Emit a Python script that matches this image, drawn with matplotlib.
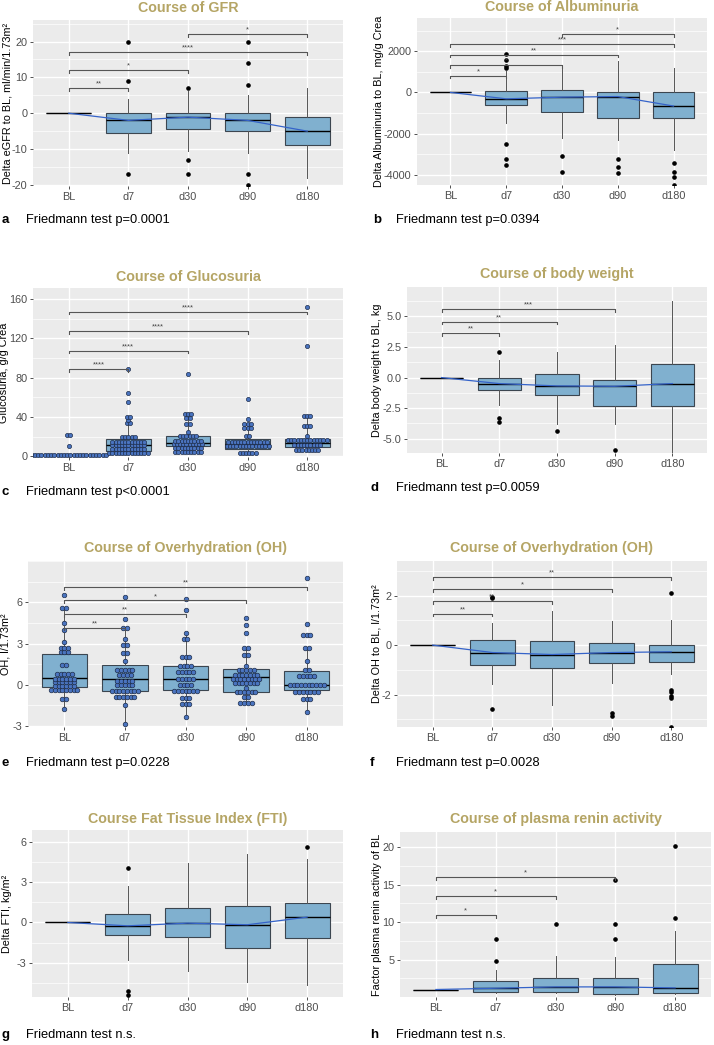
import numpy as np
import matplotlib
matplotlib.use('Agg')
import matplotlib.pyplot as plt
from matplotlib.ticker import AutoMinorLocator, FormatStrFormatter

plt.rcParams['font.family'] = ['Liberation Sans', 'DejaVu Sans']
plt.rcParams['axes.unicode_minus'] = False

W, H = 714, 1045
groups = ['BL', 'd7', 'd30', 'd90', 'd180']

# a: GFR
gfr_q1 = [0, -5.6, -4.5, -5.0, -8.9]
gfr_med = [0, -2.0, -1.1, -2.0, -5.0]
gfr_q3 = [0, 0, 0, 0, -1.0]
gfr_lo = [0, -11, -10.4, -11, -18]
gfr_hi = [0, 4, 6.3, 5.1, 7]
gfr_out = [[], [20, 9, -17], [7, -13, -17], [20, 14, 8, -17, -20], []]
gfr_sig = [(0, 1, 7, '**'), (0, 2, 12, '*'), (0, 4, 17, '****'), (2, 4, 22, '*')]

# b: Albuminuria
alb_q1 = [0, -630, -960, -1250, -1250]
alb_med = [0, -310, -230, -200, -660]
alb_q3 = [0, 70, 130, 20, 30]
alb_lo = [0, -1490, -2220, -2300, -2790]
alb_hi = [0, 1050, 1350, 1510, 1180]
alb_out = [[], [1180, 1260, 1570, 1860, -2480, -3250, -3500], [-3080, -3870],
           [-3240, -3600, -3920], [-3400, -3870, -4080, -4480]]
alb_sig = [(0, 1, 810, '*'), (0, 2, 1330, '*'), (0, 3, 1830, '**'), (0, 4, 2350, '***'), (2, 4, 2835, '*')]

# c: Glucosuria (box + dots)
glu_q1 = [1, 5.4, 10.2, 7.8, 9.5]
glu_med = [1, 11.9, 14, 12.2, 13.6]
glu_q3 = [1, 18, 21.1, 17.3, 18]
glu_lo = [1, 2.7, 4, 3.7, 6]
glu_hi = [1, 40, 43, 32.6, 41]
glu_dot_vals = [[1, 10.5, 21.4],
                [3, 7, 11, 15, 20, 34, 37, 40, 55, 64, 89],
                [4, 8.5, 12.2, 16, 20.4, 24.2, 32.6, 39, 42.8, 83.3],
                [3.7, 10.2, 15, 21, 28.5, 32.6, 37.7, 58],
                [6, 11, 16.3, 20.7, 31, 40.8, 112, 151.5]]
glu_dot_n = [[24, 1, 2],
             [13, 11, 11, 11, 5, 2, 1, 2, 1, 1, 1],
             [9, 9, 10, 9, 6, 1, 2, 2, 3, 1],
             [6, 14, 13, 2, 3, 3, 1, 1],
             [8, 9, 13, 1, 3, 3, 1, 1]]
glu_sig = [(0, 1, 88.7, '****'), (0, 2, 107.3, '****'), (0, 3, 127.4, '****'), (0, 4, 147.1, '****')]

# d: body weight
bw_q1 = [0, -0.98, -1.44, -2.34, -2.29]
bw_med = [0, -0.49, -0.68, -0.71, -0.49]
bw_q3 = [0, 0, 0.33, -0.16, 1.12]
bw_lo = [0, -2.2, -3.76, -3.8, -6.2]
bw_hi = [0, 1.42, 2.1, 2.7, 6.27]
bw_out = [[], [2.1, -3.3, -3.6], [-4.35], [-5.9], []]
bw_sig = [(0, 1, 3.62, '**'), (0, 2, 4.58, '**'), (0, 3, 5.6, '***')]

# e: Overhydration absolute (box + dots)
oh_q1 = [-0.17, -0.48, -0.41, -0.55, -0.41]
oh_med = [0.48, 0.43, 0.41, 0.53, -0.05]
oh_q3 = [2.22, 1.43, 1.38, 1.16, 0.97]
oh_lo = [-1.74, -2.85, -2.35, -1.3, -2.0]
oh_hi = [5.6, 4.15, 3.75, 2.7, 2.65]
oh_dot_vals = [[-1.75, -1.0, -0.4, -0.1, 0.2, 0.45, 0.8, 1.45, 2.35, 2.7, 3.1, 4.0, 4.5, 5.6, 6.55],
               [-2.85, -1.45, -0.9, -0.45, -0.05, 0.3, 0.7, 1.1, 1.7, 2.3, 2.9, 3.3, 4.15, 4.75, 6.35],
               [-2.35, -1.4, -0.95, -0.45, 0.0, 0.4, 0.9, 1.4, 2.05, 3.35, 3.75, 5.45, 6.25],
               [-1.3, -0.9, -0.55, -0.25, 0.15, 0.4, 0.7, 1.1, 1.4, 2.15, 2.7, 3.8, 4.35, 4.85],
               [-2.0, -1.0, -0.55, -0.05, 0.65, 1.05, 1.7, 2.65, 3.6, 4.4, 7.8]]
oh_dot_n = [[1, 2, 8, 6, 6, 6, 5, 2, 3, 3, 1, 1, 1, 2, 1],
            [1, 1, 6, 8, 5, 5, 4, 5, 1, 2, 2, 1, 2, 1, 1],
            [1, 3, 3, 7, 4, 5, 5, 4, 3, 2, 1, 1, 1],
            [4, 2, 6, 1, 7, 8, 7, 5, 1, 2, 2, 1, 1, 1],
            [1, 3, 7, 10, 5, 2, 1, 2, 3, 1, 1]]
oh_sig = [(0, 1, 4.15, '**'), (0, 2, 5.12, '**'), (0, 3, 6.13, '*'), (0, 4, 7.12, '**')]

# f: delta Overhydration
doh_q1 = [0, -0.8, -0.91, -0.74, -0.67]
doh_med = [0, -0.3, -0.38, -0.3, -0.27]
doh_q3 = [0, 0.2, 0.15, 0.1, 0.0]
doh_lo = [0, -1.57, -2.42, -1.54, -1.17]
doh_hi = [0, 0.9, 1.37, 0.97, 1.0]
doh_out = [[], [1.9, 1.95, -2.6], [], [-2.75, -2.85], [2.1, -1.8, -1.9, -2.05, -2.15, -3.3]]
doh_sig = [(0, 1, 1.27, '**'), (0, 2, 1.77, '**'), (0, 3, 2.27, '*'), (0, 4, 2.75, '**')]

# g: Fat tissue index
fti_q1 = [0, -0.94, -1.09, -1.91, -1.19]
fti_med = [0, -0.25, -0.05, -0.17, 0.40]
fti_q3 = [0, 0.65, 1.09, 1.22, 1.44]
fti_lo = [0, -2.78, -3.65, -4.47, -4.69]
fti_hi = [0, 2.73, 4.42, 5.11, 4.71]
fti_out = [[], [4.1, -5.1, -5.4], [], [], [5.6]]

# h: plasma renin activity
pra_q1 = [1, 0.68, 0.63, 0.42, 0.5]
pra_med = [1, 1.17, 1.35, 1.35, 1.22]
pra_q3 = [1, 2.15, 2.55, 2.55, 4.45]
pra_lo = [1, 0.55, 0.5, 0.3, 0.4]
pra_hi = [1, 3.6, 5.45, 5.35, 8.87]
pra_out = [[], [4.75, 7.8], [9.7], [7.8, 9.7, 15.6], [10.5, 20.2]]
pra_sig = [(0, 1, 10.96, '*'), (0, 2, 13.45, '*'), (0, 3, 15.99, '*')]

BOX = '#80B0CF'
TITLE = '#B5A565'
SMOOTH = '#3563C9'


def make_ax(fig, l, r, t, b):
    ax = fig.add_axes([l / W, 1 - b / H, (r - l) / W, (b - t) / H])
    ax.set_facecolor('#EBEBEB')
    for s in ax.spines.values():
        s.set_visible(False)
    ax.set_axisbelow(True)
    ax.yaxis.set_minor_locator(AutoMinorLocator(2))
    ax.grid(which='major', color='white', lw=1.0)
    ax.grid(which='minor', axis='y', color='white', lw=0.5)
    ax.tick_params(which='major', length=2.5, width=0.6, color='#333333',
                   labelsize=7.8, labelcolor='#4D4D4D', pad=1.5)
    ax.tick_params(which='minor', length=0)
    return ax


def draw_box(ax, q1, med, q3, lo, hi, out, smooth=True):
    stats = []
    for i in range(5):
        stats.append(dict(med=med[i], q1=q1[i], q3=q3[i], whislo=lo[i], whishi=hi[i],
                          fliers=out[i] if out is not None else []))
    ax.bxp(stats, positions=range(1, 6), widths=0.75, patch_artist=True, showcaps=False,
           showfliers=out is not None,
           boxprops=dict(facecolor=BOX, edgecolor='#3C4650', lw=0.8),
           whiskerprops=dict(color='#555555', lw=0.7),
           medianprops=dict(color='black', lw=1.0),
           flierprops=dict(marker='o', ms=2.3, mfc='black', mec='black', lw=0))
    if smooth:
        ax.plot(range(1, 6), med, color=SMOOTH, lw=0.9, zorder=4)
    ax.set_xlim(0.4, 5.6)
    ax.set_xticks(range(1, 6))
    ax.set_xticklabels(groups)


def draw_dots(ax, vals, counts, dx, ms):
    xs, ys = [], []
    for i in range(5):
        for v, n in zip(vals[i], counts[i]):
            for k in range(n):
                xs.append(i + 1 + (k - (n - 1) / 2) * dx)
                ys.append(v)
    ax.plot(xs, ys, 'o', ms=ms, mfc='#4A74C0', mec='#1E2D4A', mew=0.5, zorder=5)


def draw_sig(ax, sig):
    y0, y1 = ax.get_ylim()
    tick = (y1 - y0) * 0.016
    for a, b, y, lab in sig:
        ax.plot([a + 1, a + 1, b + 1, b + 1], [y - tick, y, y, y - tick], color='#555555', lw=0.8, zorder=6)
        ax.text((a + b) / 2 + 1, y + tick * 0.2, lab, ha='center', va='bottom', fontsize=5.5,
                color='#444444', zorder=6)


def ylab(ax, text, xc):
    # place y label with its centre at pixel column xc
    pos = ax.get_position()
    ax.set_ylabel(text, fontsize=7.8)
    ax.yaxis.set_label_coords((xc + 4.5 - pos.x0 * W) / (pos.width * W), 0.5)


def labels(fig, ax, title, ty, letter, lx, tx, cy, caption):
    pos = ax.get_position()
    fig.text(pos.x0 + pos.width / 2, 1 - ty / H, title, ha='center', va='center',
             fontsize=10.3, fontweight='bold', color=TITLE)
    fig.text(lx / W, 1 - cy / H, letter, ha='left', va='center', fontsize=9.5, fontweight='bold')
    fig.text(tx / W, 1 - cy / H, caption, ha='left', va='center', fontsize=9.3)


fig = plt.figure(figsize=(W / 100, H / 100), dpi=100)

# a
ax = make_ax(fig, 33, 343, 20, 186)
draw_box(ax, gfr_q1, gfr_med, gfr_q3, gfr_lo, gfr_hi, gfr_out)
ax.set_ylim(-20.3, 26)
ax.set_yticks([-20, -10, 0, 10, 20])
draw_sig(ax, gfr_sig)
ylab(ax, 'Delta eGFR to BL, ml/min/1.73m²', 8)
labels(fig, ax, 'Course of GFR', 8, 'a', 2, 26, 220, 'Friedmann test p=0.0001')

# b
ax = make_ax(fig, 417, 707, 18, 185)
draw_box(ax, alb_q1, alb_med, alb_q3, alb_lo, alb_hi, alb_out)
ax.set_ylim(-4490, 3610)
ax.set_yticks([-4000, -2000, 0, 2000])
draw_sig(ax, alb_sig)
ylab(ax, 'Delta Albuminuria to BL, mg/g Crea', 380)
labels(fig, ax, 'Course of Albuminuria', 7, 'b', 373, 396, 220, 'Friedmann test p=0.0394')

# c
ax = make_ax(fig, 33, 343, 288, 457)
draw_box(ax, glu_q1, glu_med, glu_q3, glu_lo, glu_hi, None, smooth=False)
ax.set_ylim(-0.7, 171)
ax.set_yticks([0, 40, 80, 120, 160])
draw_dots(ax, glu_dot_vals, glu_dot_n, 0.054, 3.0)
draw_sig(ax, glu_sig)
ylab(ax, 'Glucosuria, g/g Crea', 5)
labels(fig, ax, 'Course of Glucosuria', 277, 'c', 2, 26, 492, 'Friedmann test p<0.0001')

# d
ax = make_ax(fig, 407, 707, 287, 453)
draw_box(ax, bw_q1, bw_med, bw_q3, bw_lo, bw_hi, bw_out)
ax.set_ylim(-6.16, 7.4)
ax.set_yticks([-5, -2.5, 0, 2.5, 5])
ax.yaxis.set_major_formatter(FormatStrFormatter('%.1f'))
draw_sig(ax, bw_sig)
ylab(ax, 'Delta body weight to BL, kg', 378)
labels(fig, ax, 'Course of body weight', 274, 'd', 370, 396, 488, 'Friedmann test p=0.0059')

# e
ax = make_ax(fig, 28, 343, 561, 727)
draw_box(ax, oh_q1, oh_med, oh_q3, oh_lo, oh_hi, None, smooth=False)
ax.set_ylim(-3.07, 9.0)
ax.set_yticks([-3, 0, 3, 6])
draw_dots(ax, oh_dot_vals, oh_dot_n, 0.062, 3.3)
draw_sig(ax, oh_sig)
ylab(ax, 'OH, l/1.73m²', 6)
labels(fig, ax, 'Course of Overhydration (OH)', 548, 'e', 2, 26, 763, 'Friedmann test p=0.0228')

# f
ax = make_ax(fig, 397, 707, 561, 727)
draw_box(ax, doh_q1, doh_med, doh_q3, doh_lo, doh_hi, doh_out)
ax.set_ylim(-3.31, 3.4)
ax.set_yticks([-2, 0, 2])
draw_sig(ax, doh_sig)
ylab(ax, 'Delta OH to BL, l/1.73m²', 377)
labels(fig, ax, 'Course of Overhydration (OH)', 548, 'f', 370, 396, 763, 'Friedmann test p=0.0028')

# g
ax = make_ax(fig, 32, 343, 830, 997)
draw_box(ax, fti_q1, fti_med, fti_q3, fti_lo, fti_hi, fti_out)
ax.set_ylim(-5.56, 6.9)
ax.set_yticks([-3, 0, 3, 6])
ylab(ax, 'Delta FTI, kg/m²', 7)
labels(fig, ax, 'Course Fat Tissue Index (FTI)', 819, 'g', 2, 26, 1035, 'Friedmann test n.s.')

# h
ax = make_ax(fig, 400, 711, 832, 997)
draw_box(ax, pra_q1, pra_med, pra_q3, pra_lo, pra_hi, pra_out)
ax.set_ylim(0, 22.05)
ax.set_yticks([5, 10, 15, 20])
draw_sig(ax, pra_sig)
ylab(ax, 'Factor plasma renin activity of BL', 378)
labels(fig, ax, 'Course of plasma renin activity', 819, 'h', 370, 396, 1035, 'Friedmann test n.s.')

fig.savefig('out.png', dpi=100, facecolor='white')
